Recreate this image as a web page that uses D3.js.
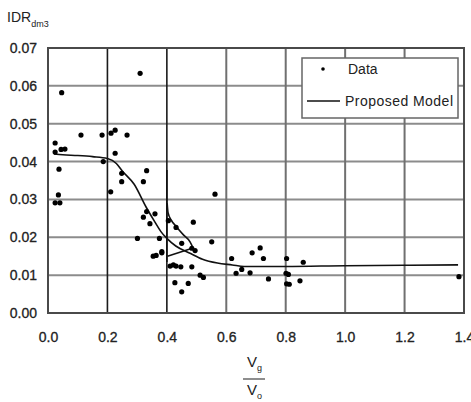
<!DOCTYPE html>
<html>
<head>
<meta charset="utf-8">
<script src="https://cdn.jsdelivr.net/npm/d3@7"></script>
<style>
  html, body { margin: 0; padding: 0; background: #fff; }
  text { font-family: "Liberation Sans", Arial, sans-serif; }
</style>
</head>
<body>
<svg id="chart" width="471" height="402"></svg>
<script>
// ---- data ----
const dataX = [0.046, 0.111, 0.182, 0.212, 0.226, 0.266, 0.31,
  0.024, 0.024, 0.044, 0.057, 0.037, 0.035, 0.024, 0.04,
  0.186, 0.226, 0.248, 0.248, 0.211, 0.332, 0.321,
  0.332, 0.360, 0.321, 0.343, 0.301, 0.375, 0.354, 0.364, 0.383,
  0.405, 0.411, 0.431, 0.427, 0.562, 0.489, 0.431, 0.450, 0.551, 0.484, 0.495,
  0.383, 0.422, 0.447, 0.484, 0.512, 0.523, 0.472, 0.450,
  0.618, 0.633, 0.652, 0.680, 0.687, 0.714, 0.725, 0.742,
  0.803, 0.801, 0.809, 0.803, 0.812, 0.859, 0.848, 1.383];
const dataY = [0.0582, 0.0470, 0.0470, 0.0475, 0.0483, 0.0470, 0.0633,
  0.0449, 0.0425, 0.0432, 0.0433, 0.0380, 0.0312, 0.0291, 0.0291,
  0.0400, 0.0422, 0.0369, 0.0347, 0.0320, 0.0376, 0.0347,
  0.0268, 0.0262, 0.0253, 0.0236, 0.0197, 0.0197, 0.0150, 0.0152, 0.0159,
  0.0244, 0.0124, 0.0124, 0.0080, 0.0314, 0.0240, 0.0226, 0.0184, 0.0188, 0.0171, 0.0165,
  0.0162, 0.0127, 0.0122, 0.0122, 0.0100, 0.0094, 0.0078, 0.0056,
  0.0144, 0.0105, 0.0115, 0.0106, 0.0159, 0.0172, 0.0144, 0.0090,
  0.0144, 0.0105, 0.0102, 0.0077, 0.0076, 0.0134, 0.0085, 0.0096];

const modelX = [0.02, 0.05, 0.10, 0.15, 0.20, 0.23, 0.25, 0.29, 0.33, 0.36, 0.38, 0.40,
  0.43, 0.48, 0.52, 0.57, 0.62, 0.66, 0.80, 1.00, 1.20, 1.38];
const modelY = [0.0420, 0.0418, 0.0416, 0.0413, 0.0408, 0.0395, 0.0375, 0.0340, 0.0280, 0.0240, 0.0215, 0.0197,
  0.0177, 0.0157, 0.0142, 0.0132, 0.0127, 0.0123, 0.0123, 0.0125, 0.0126, 0.0127];

const branchVertX = [0.40, 0.40];
const branchVertY = [0.0378, 0.0135];
const branchCurveX = [0.401, 0.404, 0.415, 0.43, 0.455, 0.478, 0.488];
const branchCurveY = [0.0290, 0.0265, 0.0245, 0.0230, 0.0207, 0.0188, 0.0172];
const branchBackX = [0.488, 0.402];
const branchBackY = [0.0172, 0.0150];

const xTicks = [0.0, 0.2, 0.4, 0.6, 0.8, 1.0, 1.2, 1.4];
const yTicks = [0.00, 0.01, 0.02, 0.03, 0.04, 0.05, 0.06, 0.07];
const legendLabels = ["Data", "Proposed Model"];

// ---- layout ----
const svg = d3.select("#chart");
const L = 48, R = 464, T = 48, B = 313;
const x = d3.scaleLinear().domain([0, 1.4]).range([L, R]);
const y = d3.scaleLinear().domain([0, 0.07]).range([B, T]);

// grid
const g = svg.append("g");
g.selectAll("line.h").data(yTicks.filter(d => d > 0 && d < 0.07)).enter().append("line")
  .attr("x1", L).attr("x2", R).attr("y1", d => y(d)).attr("y2", d => y(d))
  .attr("stroke", "#8c8c8c").attr("stroke-width", 2);
g.selectAll("line.v").data(xTicks.filter(d => d > 0 && d < 1.4)).enter().append("line")
  .attr("y1", T).attr("y2", B).attr("x1", d => x(d)).attr("x2", d => x(d))
  .attr("stroke", d => (Math.abs(d - 0.2) < 1e-9 || Math.abs(d - 0.4) < 1e-9) ? "#1a1a1a" : "#707070")
  .attr("stroke-width", d => (Math.abs(d - 0.2) < 1e-9 || Math.abs(d - 0.4) < 1e-9) ? 1.6 : 2);

// frame
svg.append("rect").attr("x", L).attr("y", T).attr("width", R - L).attr("height", B - T)
  .attr("fill", "none").attr("stroke", "#4a4a4a").attr("stroke-width", 2);

// axes labels via d3 axes (no domain, no ticks)
const xAxis = svg.append("g").attr("transform", `translate(0,${B})`)
  .call(d3.axisBottom(x).tickValues(xTicks).tickFormat(d3.format(".1f")).tickSize(0).tickPadding(19));
const yAxis = svg.append("g").attr("transform", `translate(${L},0)`)
  .call(d3.axisLeft(y).tickValues(yTicks).tickFormat(d3.format(".2f")).tickSize(0).tickPadding(11));
[xAxis, yAxis].forEach(a => {
  a.select(".domain").remove();
  a.selectAll("text").attr("font-family", "'Liberation Sans', Arial, sans-serif")
    .attr("font-size", 14).attr("fill", "#222").attr("stroke", "#222").attr("stroke-width", 0.3);
});

// model lines
const line = d3.line().x(d => x(d[0])).y(d => y(d[1]));
const zip = (a, b) => a.map((v, i) => [v, b[i]]);
svg.append("path").datum(zip(modelX, modelY))
  .attr("d", line.curve(d3.curveMonotoneX)).attr("fill", "none").attr("stroke", "#111").attr("stroke-width", 1.6);
const line2 = d3.line().x(d => x(d[0])).y(d => y(d[1]));
svg.append("path").datum(zip(branchVertX, branchVertY))
  .attr("d", line2).attr("fill", "none").attr("stroke", "#111").attr("stroke-width", 1.6);
svg.append("path").datum(zip(branchCurveX, branchCurveY))
  .attr("d", line2.curve(d3.curveMonotoneX)).attr("fill", "none").attr("stroke", "#111").attr("stroke-width", 1.6);
svg.append("path").datum(zip(branchBackX, branchBackY))
  .attr("d", d3.line().x(d => x(d[0])).y(d => y(d[1]))).attr("fill", "none").attr("stroke", "#111").attr("stroke-width", 1.6);

// data points
svg.append("g").selectAll("circle").data(zip(dataX, dataY)).enter().append("circle")
  .attr("cx", d => x(d[0])).attr("cy", d => y(d[1])).attr("r", 2.6).attr("fill", "#000");

// legend
const lg = svg.append("g");
lg.append("rect").attr("x", 302).attr("y", 58).attr("width", 156).attr("height", 60)
  .attr("fill", "#fff").attr("stroke", "#666").attr("stroke-width", 1.5);
lg.append("circle").attr("cx", 323).attr("cy", 69).attr("r", 1.8).attr("fill", "#000");
lg.append("text").attr("x", 348).attr("y", 74).attr("font-size", 14).attr("fill", "#222").text(legendLabels[0]);
lg.append("line").attr("x1", 307).attr("x2", 340).attr("y1", 101).attr("y2", 101)
  .attr("stroke", "#111").attr("stroke-width", 1.6);
lg.append("text").attr("x", 345).attr("y", 106).attr("font-size", 14).attr("fill", "#222")
  .attr("textLength", 108).text(legendLabels[1]);

// y title
const yt = svg.append("text").attr("x", 7).attr("y", 22).attr("fill", "#222").attr("font-size", 14);
yt.append("tspan").text("IDR");
yt.append("tspan").attr("dy", 5).attr("font-size", 9).text("dm3");

// x title (fraction)
const xt1 = svg.append("text").attr("x", 247).attr("y", 367).attr("fill", "#222").attr("font-size", 15);
xt1.append("tspan").text("V");
xt1.append("tspan").attr("dy", 4).attr("font-size", 9).text("g");
svg.append("line").attr("x1", 243).attr("x2", 265).attr("y1", 379).attr("y2", 379)
  .attr("stroke", "#444").attr("stroke-width", 1.2);
const xt2 = svg.append("text").attr("x", 247).attr("y", 395).attr("fill", "#222").attr("font-size", 15);
xt2.append("tspan").text("V");
xt2.append("tspan").attr("dy", 4).attr("font-size", 9).text("o");
</script>
</body>
</html>
